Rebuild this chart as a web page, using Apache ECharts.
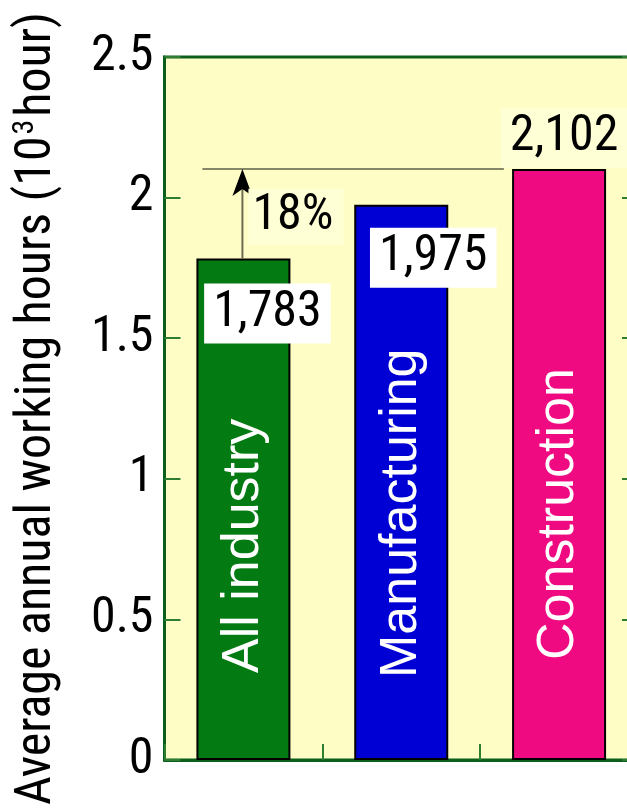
<!DOCTYPE html>
<html>
<head>
<meta charset="utf-8">
<script src="https://cdn.jsdelivr.net/npm/echarts@6/dist/echarts.min.js"></script>
<style>
  html, body { margin: 0; padding: 0; background: #ffffff; overflow: hidden; }
  #chart { width: 680px; height: 812px; }
</style>
</head>
<body>
<div id="chart"></div>
<script>
// Average annual working hours by industry, in thousands of hours
const categories = ['All industry', 'Manufacturing', 'Construction'];
const hours = [1.783, 1.975, 2.102];
const barColors = ['#037A12', '#0000D4', '#F00A82'];
const yMin = 0, yMax = 2.5, yStep = 0.5;

const numFont = '"Roboto Condensed", "Liberation Sans", sans-serif';
const nameFont = '"Liberation Sans", Arial, sans-serif';
const axisGreen = '#0B5E1C';
const tickGreen = '#2E7D32';

const fmtHours = v => Math.round(v * 1000).toLocaleString('en-US');
const growthPct = Math.round((hours[2] / hours[0] - 1) * 100);

// per-bar placement of the rotated industry name and the value box
const nameDistance = [87, 82, 100];
const valueLabel = [
  { position: 'insideTop', distance: 5, offset: [24, 20] },
  { position: 'insideTop', distance: 5, offset: [32, 18] },
  { position: 'top', distance: 1, offset: [5, 0], backgroundColor: '#FFFFD6' }
];

const chart = echarts.init(document.getElementById('chart'));
chart.setOption({
  animation: false,
  grid: {
    left: 164.5, right: 42, top: 57, bottom: 52,
    show: true, backgroundColor: '#FFFDC6',
    borderColor: axisGreen, borderWidth: 3
  },
  xAxis: {
    type: 'category',
    data: categories,
    axisLine: { lineStyle: { color: axisGreen, width: 3 } },
    axisTick: { show: true, inside: true, length: 16, alignWithLabel: false,
      lineStyle: { color: tickGreen, width: 2 } },
    axisLabel: { show: false },
    splitLine: { show: false }
  },
  yAxis: [{
    type: 'value',
    min: yMin, max: yMax, interval: yStep,
    position: 'left',
    name: '{t|Average annual working hours (10}{sup|3}{t|hour)}',
    nameLocation: 'middle',
    nameGap: 100,
    nameRotate: 90,
    nameTextStyle: {
      rich: {
        t: { fontFamily: numFont, fontSize: 50, color: '#000', lineHeight: 54 },
        sup: { fontFamily: numFont, fontSize: 30, color: '#000', lineHeight: 54,
          verticalAlign: 'bottom', padding: [0, 3, 24, 2] }
      }
    },
    axisLine: { show: true, lineStyle: { color: axisGreen, width: 3 } },
    axisTick: { show: true, inside: true, length: 16, lineStyle: { color: tickGreen, width: 2 } },
    axisLabel: { fontFamily: numFont, fontSize: 50, color: '#000', margin: 11 },
    splitLine: { show: false }
  }, {
    type: 'value',
    min: yMin, max: yMax, interval: yStep,
    position: 'right',
    axisLine: { show: true, lineStyle: { color: axisGreen, width: 3 } },
    axisTick: { show: true, inside: true, length: 16, lineStyle: { color: tickGreen, width: 2 } },
    axisLabel: { show: false },
    splitLine: { show: false }
  }],
  series: [{
    name: 'Hours',
    type: 'bar',
    barWidth: 94,
    barGap: '-100%',
    data: hours.map((v, i) => ({
      value: v,
      itemStyle: { color: barColors[i], borderColor: '#000', borderWidth: 2 },
      label: {
        show: true,
        position: 'insideBottom',
        distance: nameDistance[i],
        rotate: 90,
        align: 'left',
        verticalAlign: 'middle',
        formatter: categories[i],
        fontFamily: nameFont,
        fontSize: 52,
        color: '#fff'
      }
    })),
    z: 2
  }, {
    name: 'Value labels',
    type: 'bar',
    barWidth: 94,
    barGap: '-100%',
    silent: true,
    itemStyle: { color: 'rgba(0,0,0,0)' },
    data: hours.map((v, i) => ({
      value: v,
      label: Object.assign({
        show: true,
        formatter: fmtHours(v),
        fontFamily: numFont,
        fontSize: 50,
        lineHeight: 52,
        color: '#000',
        backgroundColor: '#FFFFFF',
        padding: [4, 9, 4, 9]
      }, valueLabel[i])
    })),
    z: 4
  }, {
    // reference line at the highest bar and the growth arrow from the first bar
    name: 'Growth',
    type: 'custom',
    silent: true,
    z: 5,
    data: [[0, hours[0], 2, hours[2]]],
    encode: { x: 0, y: 1 },
    renderItem: function (params, api) {
      const band = api.size([1, 0])[0];
      const foot = api.coord([api.value(0), api.value(1)]);
      const level = api.coord([api.value(2), api.value(3)]);
      const x = foot[0] - 1;
      const yTop = level[1];
      const yFoot = foot[1];
      const lineStart = foot[0] - 0.26 * band;
      const lineEnd = level[0] - 0.35 * band;
      return {
        type: 'group',
        children: [{
          type: 'line',
          shape: { x1: lineStart, y1: yTop, x2: lineEnd, y2: yTop },
          style: { stroke: '#5E5E48', lineWidth: 1.5 }
        }, {
          type: 'line',
          shape: { x1: x, y1: yFoot, x2: x, y2: yTop + 14 },
          style: { stroke: '#6B6B52', lineWidth: 2 }
        }, {
          type: 'polygon',
          shape: { points: [[x, yTop], [x + 10, yTop + 27], [x, yTop + 20], [x - 10, yTop + 27]] },
          style: { fill: '#000' }
        }, {
          type: 'text',
          style: {
            text: growthPct + '%',
            x: x + 6,
            y: (yTop + yFoot) / 2 + 3,
            align: 'left',
            verticalAlign: 'middle',
            font: '50px ' + numFont,
            fill: '#000',
            backgroundColor: '#FFFFD6',
            padding: [3, 10, 3, 4]
          }
        }]
      };
    }
  }]
});
</script>
</body>
</html>
